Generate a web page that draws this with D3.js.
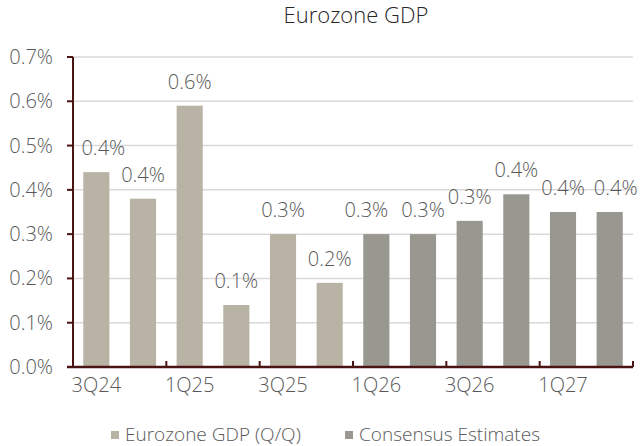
<!DOCTYPE html>
<html>
<head>
<meta charset="utf-8">
<script src="https://cdn.jsdelivr.net/npm/d3@7"></script>
<style>
  body { margin: 0; background: #fff; }
  text { font-family: "Open Sans", "Noto Sans", sans-serif; font-weight: 300; fill: #595959; }
</style>
</head>
<body>
<svg id="chart" width="641" height="446"></svg>
<script>
let quarters = ["3Q24", "4Q24", "1Q25", "2Q25", "3Q25", "4Q25", "1Q26", "2Q26", "3Q26", "4Q26", "1Q27", "2Q27"]
let gdp = [0.44, 0.38, 0.59, 0.14, 0.30, 0.19, null, null, null, null, null, null]
let consensus = [null, null, null, null, null, null, 0.30, 0.30, 0.33, 0.39, 0.35, 0.35]
let yTicks = [0, 0.1, 0.2, 0.3, 0.4, 0.5, 0.6, 0.7]
let xLabels = ["3Q24", "1Q25", "3Q25", "1Q26", "3Q26", "1Q27"]
let seriesNames = ["Eurozone GDP (Q/Q)", "Consensus Estimates"]

let colors = ["#b9b3a5", "#999890"]
let axisCol = "#4a1414"
let pct = v => (Math.round(v * 10) / 10).toFixed(1) + "%"

let svg = d3.select("#chart")
let x = d3.scaleBand().domain(quarters).range([73, 633]).paddingInner(0.44).paddingOuter(0.22)
let y = d3.scaleLinear().domain([0, 0.7]).range([367, 57])

// one row per bar, from whichever series has the value
let rows = quarters.map((q, i) => {
  let s = gdp[i] != null ? 0 : 1
  return {q: q, v: s == 0 ? gdp[i] : consensus[i], s: s}
})

// gridlines
svg.append("g").selectAll("line")
  .data(yTicks.filter(d => d > 0)).enter()
  .append("line")
  .attr("x1", 73).attr("x2", 633)
  .attr("y1", d => y(d)).attr("y2", d => y(d))
  .attr("stroke", "#d9d9d9").attr("stroke-width", 1.5)

// bars
svg.append("g").selectAll("rect")
  .data(rows).enter()
  .append("rect")
  .attr("x", d => x(d.q))
  .attr("width", x.bandwidth())
  .attr("y", d => y(d.v))
  .attr("height", d => y(0) - y(d.v))
  .attr("fill", d => colors[d.s])

// value labels, a few nudged sideways like in the original
let nudge = {"3Q24": 7, "1Q26": -10, "2Q27": 6}
svg.append("g").selectAll("text")
  .data(rows).enter()
  .append("text")
  .attr("x", d => x(d.q) + x.bandwidth() / 2 + (nudge[d.q] || 0))
  .attr("y", d => y(d.v) - 17)
  .attr("text-anchor", "middle")
  .style("font-size", "20px")
  .text(d => pct(d.v))

// y axis
let ya = svg.append("g")
ya.append("line").attr("x1", 73).attr("x2", 73).attr("y1", y(0.7)).attr("y2", y(0))
  .attr("stroke", axisCol).attr("stroke-width", 2)
ya.selectAll("line.tk").data(yTicks).enter().append("line").attr("class", "tk")
  .attr("x1", 67).attr("x2", 73).attr("y1", d => y(d)).attr("y2", d => y(d))
  .attr("stroke", axisCol).attr("stroke-width", 2)
ya.selectAll("text").data(yTicks).enter().append("text")
  .attr("x", 53).attr("y", d => y(d)).attr("dy", "0.35em")
  .attr("text-anchor", "end")
  .style("font-size", "20px")
  .text(d => pct(d))

// x axis
let xa = svg.append("g")
xa.append("line").attr("x1", 67).attr("x2", 633).attr("y1", y(0)).attr("y2", y(0))
  .attr("stroke", axisCol).attr("stroke-width", 2.5)
let edges = quarters.filter((q, i) => i % 2 == 0).map(q => x(q) - x.step() * x.paddingInner() / 2)
edges.push(633)
xa.selectAll("line.tk").data(edges).enter().append("line").attr("class", "tk")
  .attr("x1", d => d).attr("x2", d => d).attr("y1", y(0)).attr("y2", y(0) - 6)
  .attr("stroke", axisCol).attr("stroke-width", 2)
xa.selectAll("text").data(xLabels).enter().append("text")
  .attr("x", d => x(d) + x.bandwidth() / 2).attr("y", 392)
  .attr("text-anchor", "middle")
  .style("font-size", "20px")
  .text(d => d)

// title
svg.append("text").attr("x", 356).attr("y", 23).attr("text-anchor", "middle")
  .style("font-size", "22px").style("fill", "#262626")
  .text("Eurozone GDP")

// legend
let lg = svg.append("g").selectAll("g").data(seriesNames).enter().append("g")
  .attr("transform", (d, i) => "translate(" + [111, 345][i] + ",441)")
lg.append("rect").attr("x", 0).attr("y", -10).attr("width", 8).attr("height", 8)
  .attr("fill", (d, i) => colors[i])
lg.append("text").attr("x", 14).attr("y", 0).style("font-size", "19px").text(d => d)
</script>
</body>
</html>
